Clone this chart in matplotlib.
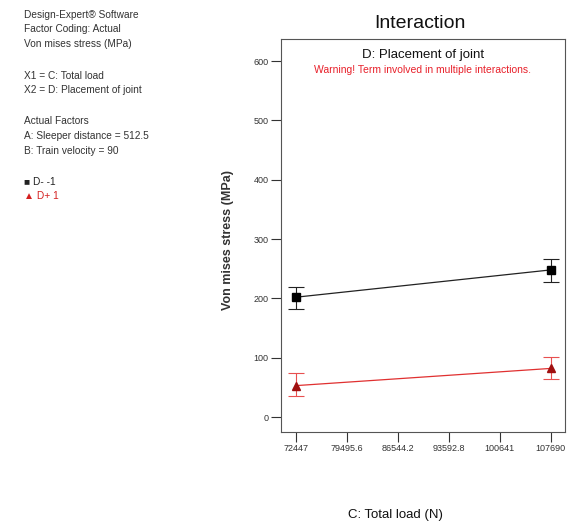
import numpy as np
import matplotlib
matplotlib.use("Agg")
import matplotlib.pyplot as plt

plt.rcParams['font.family'] = ['Liberation Sans', 'DejaVu Sans']

# data
load = [72447, 107690]
xticks = [72447, 79495.6, 86544.2, 93592.8, 100641, 107690]
xtick_labels = ["72447", "79495.6", "86544.2", "93592.8", "100641", "107690"]
d_minus = [202, 248]
d_minus_lo = [182, 228]
d_minus_hi = [220, 266]
d_plus = [53, 82]
d_plus_lo = [35, 64]
d_plus_hi = [74, 101]

fig = plt.figure(figsize=(5.7, 5.28), dpi=100)
ax = fig.add_axes([0.493, 0.182, 0.498, 0.744])

ax.errorbar(load, d_minus,
            yerr=[np.subtract(d_minus, d_minus_lo), np.subtract(d_minus_hi, d_minus)],
            color='#222222', lw=0.9, marker='s', ms=5.5, mfc='black', mec='black',
            capsize=5.5, elinewidth=0.8, capthick=0.8)
ax.errorbar(load, d_plus,
            yerr=[np.subtract(d_plus, d_plus_lo), np.subtract(d_plus_hi, d_plus)],
            color='#e03030', lw=0.9, marker='^', ms=5.5, mfc='#a01010', mec='#a01010',
            capsize=5.5, elinewidth=0.8, capthick=0.8, ecolor='#e85050')

ax.set_xlim(72447 - 2070, 107690 + 1950)
ax.set_ylim(-25, 637)
ax.set_xticks(xticks)
ax.set_xticklabels(xtick_labels)
ax.set_yticks([0, 100, 200, 300, 400, 500, 600])
ax.tick_params(direction='out', length=7, width=0.8, labelsize=6.5, colors='#333333', pad=2)
for s in ax.spines.values():
    s.set_color('#555555')
    s.set_linewidth(0.8)

ax.text(0.5, 0.975, "D: Placement of joint", transform=ax.transAxes,
        ha='center', va='top', fontsize=9.5, color='#111111')
ax.text(0.5, 0.935, "Warning! Term involved in multiple interactions.", transform=ax.transAxes,
        ha='center', va='top', fontsize=7.5, color='#e8202a')

fig.text(0.737, 0.956, "Interaction", ha='center', va='center', fontsize=14, color='#111111')
fig.text(0.40, 0.545, "Von mises stress (MPa)", rotation=90, ha='center', va='center',
         fontsize=9, fontweight='bold', color='#333333')
fig.text(0.693, 0.025, "C: Total load (N)", ha='center', va='center', fontsize=9.5, color='#111111')

info = ["Design-Expert\u00ae Software", "Factor Coding: Actual", "Von mises stress (MPa)", "",
        "X1 = C: Total load", "X2 = D: Placement of joint", "",
        "Actual Factors", "A: Sleeper distance = 512.5", "B: Train velocity = 90", "",
        ("\u25a0 D- -1", '#222222'), ("\u25b2 D+ 1", '#d42020')]
ypx = 15
for line in info:
    if line == "":
        ypx += 17
        continue
    color = '#333333'
    if isinstance(line, tuple):
        line, color = line
    fig.text(0.042, 1 - ypx / 528, line, ha='left', va='center', fontsize=7.3, color=color)
    ypx += 14.5

fig.savefig("out.png", dpi=100)
